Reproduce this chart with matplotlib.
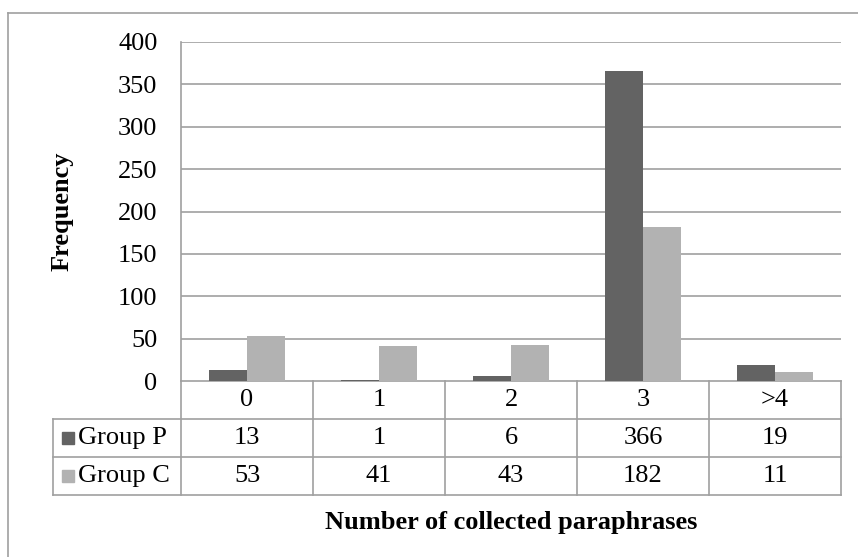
import matplotlib
matplotlib.use("Agg")
import matplotlib.pyplot as plt
from matplotlib.lines import Line2D
from matplotlib.patches import Rectangle
import numpy as np

plt.rcParams["font.family"] = ["Liberation Serif", "DejaVu Serif"]

categories = ["0", "1", "2", "3", ">4"]
series_names = ["Group P", "Group C"]
group_p = [13, 1, 6, 366, 19]
group_c = [53, 41, 43, 182, 11]
colors = ["#636363", "#b2b2b2"]
yticks = [0, 50, 100, 150, 200, 250, 300, 350, 400]

FS = 19
W, H = 858, 557
fig = plt.figure(figsize=(W / 100, H / 100), dpi=100)
L, R, T, B = 181, 841, 42, 381
ax = fig.add_axes([L / W, 1 - B / H, (R - L) / W, (B - T) / H])

grid_c = "#a0a0a0"
x = np.arange(len(categories))
bw = 0.285
ax.bar(x - bw / 2, group_p, width=bw, color=colors[0], zorder=3)
ax.bar(x + bw / 2, group_c, width=bw, color=colors[1], zorder=3)

ax.set_xlim(-0.5, len(categories) - 0.5)
ax.set_ylim(0, 400)
ax.set_yticks(yticks)
ax.tick_params(axis="y", length=0, pad=17, labelsize=FS)
ax.set_xticks([])
for y in yticks[1:]:
    ax.axhline(y, color=grid_c, lw=1.2, zorder=1)
for s in ["top", "right", "bottom"]:
    ax.spines[s].set_visible(False)
ax.spines["left"].set_color(grid_c)
ax.spines["left"].set_linewidth(1.2)

# data table under the axis
row_h = 38 / (B - T)
left_col = (53 - L) / (R - L)
tr = ax.get_xaxis_transform()
ta = ax.transAxes
kw = dict(color=grid_c, lw=1.2, clip_on=False)
ax.add_line(Line2D([0, 1], [0, 0], transform=ta, **kw))
for i in range(1, 4):
    ax.add_line(Line2D([left_col, 1], [-i * row_h] * 2, transform=ta, **kw))
for xb in np.arange(-0.5, len(categories), 1.0):
    ax.add_line(Line2D([xb, xb], [0, -3 * row_h], transform=tr, **kw))
ax.add_line(Line2D([left_col, left_col], [-row_h, -3 * row_h], transform=ta, **kw))

for i, c in enumerate(categories):
    ax.text(i, -0.5 * row_h, c, transform=tr, ha="center", va="center", fontsize=FS)
for r, (name, vals, col) in enumerate(zip(series_names, [group_p, group_c], colors)):
    yc = -(r + 1.5) * row_h
    for i, v in enumerate(vals):
        ax.text(i, yc, str(v), transform=tr, ha="center", va="center", fontsize=FS)
    kx = (62 - L) / (R - L)
    ks = 12 / (R - L)
    ax.add_patch(Rectangle((kx, yc - 6 / (B - T)), ks, 12 / (B - T), transform=ta,
                           color=col, clip_on=False))
    ax.text((78 - L) / (R - L), yc, name, transform=ta, ha="left", va="center", fontsize=FS)

fig.text(62 / W, 1 - 211 / H, "Frequency", rotation=90, ha="center", va="center",
         fontsize=FS, fontweight="bold")
fig.text((L + R) / 2 / W, 1 - 522 / H, "Number of collected paraphrases", ha="center",
         va="center", fontsize=FS, fontweight="bold")

# outer chart border
fig.add_artist(Line2D([8 / W, 8 / W], [0, 1 - 13 / H], color=grid_c, lw=1.2))
fig.add_artist(Line2D([8 / W, 1], [1 - 13 / H, 1 - 13 / H], color=grid_c, lw=1.2))

fig.savefig("out.png", dpi=100)
